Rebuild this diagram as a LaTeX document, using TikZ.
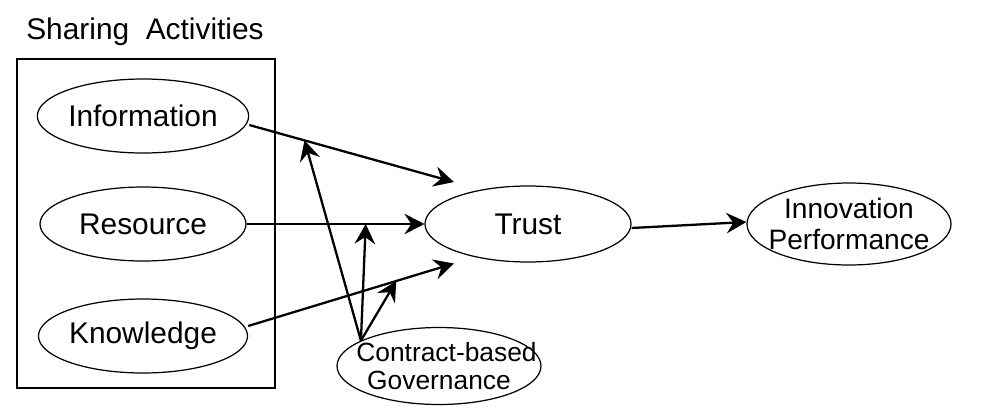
\documentclass[tikz,border=0pt]{standalone}
\usepackage{fontspec}
\setmainfont{Liberation Sans}
\usetikzlibrary{shapes.geometric,arrows.meta}

\begin{document}
\begin{tikzpicture}[
    construct/.style={ellipse, draw, line width=0.7pt, inner sep=0pt, align=center,
        minimum width=4.12cm, minimum height=1.48cm, font=\fontsize{17}{20}\selectfont},
    effect/.style={-{Stealth[length=4mm, width=4.1mm, inset=1.4mm]}, line width=1.3pt},
]
    \useasboundingbox (0,0) rectangle (19.74,8.36);

    % Sharing activities
    \node[font=\fontsize{17}{20}\selectfont] (title) at (2.9,7.72) {Sharing\ \ Activities};
    \node[draw, line width=0.7pt, minimum width=5.16cm, minimum height=6.58cm] (group) at (2.92,3.89) {};
    \node[construct] (info) at (2.86,6.04) {Information};
    \node[construct] (res) at (2.86,3.88) {Resource};
    \node[construct] (know) at (2.86,1.64) {Knowledge};

    % Mediator, outcome and moderator
    \node[construct, minimum height=1.52cm] (trust) at (10.56,3.88) {Trust};
    \node[construct, minimum width=4.08cm, minimum height=1.64cm, inner xsep=-0.6cm, inner ysep=-0.15cm,
        font=\fontsize{16}{17.6}\selectfont] (innov) at (16.98,3.88) {Innovation\\Performance};
    \node[construct, minimum width=4.08cm, minimum height=1.54cm, inner xsep=-0.8cm, inner ysep=-0.15cm,
        font=\fontsize{15}{15.5}\selectfont] (gov) at (8.78,1.04) {\hspace*{0.3cm}Contract-based\\Governance};

    % Main paths
    \draw[effect] ([yshift=-0.18cm]info.east) -- ([yshift=0.3cm]trust.160) coordinate[pos=0.27] (minfo);
    \draw[effect] (res.east) -- (trust.west) coordinate[pos=0.67] (mres);
    \draw[effect] ([yshift=0.2cm]know.east) -- ([yshift=-0.25cm]trust.200) coordinate[pos=0.72] (mknow);
    \draw[effect] ([yshift=-0.08cm]trust.east) -- ([yshift=0.04cm]innov.west);

    % Moderating effects
    \draw[effect] (gov.162) -- (minfo);
    \draw[effect] (gov.162) -- (mres);
    \draw[effect] (gov.162) -- (mknow);
\end{tikzpicture}
\end{document}
